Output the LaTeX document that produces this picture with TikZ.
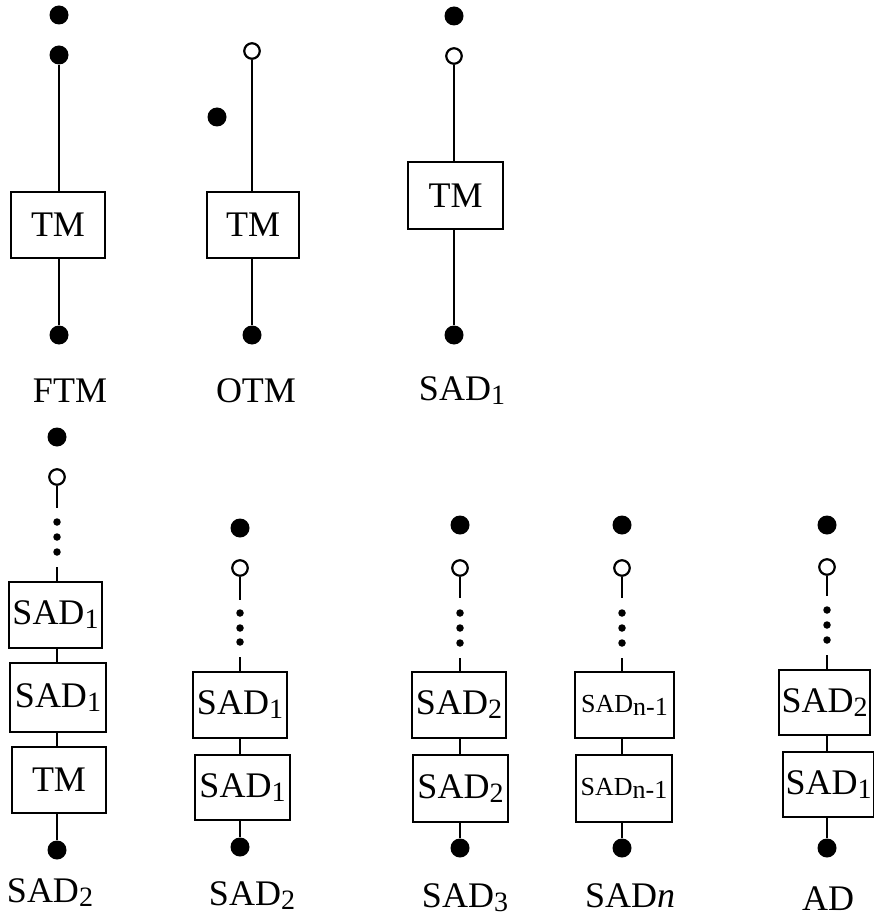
\documentclass[tikz,border=0pt]{standalone}
\usepackage{fontspec}
\setmainfont{Liberation Serif}
\newcommand\sbx[1]{\raisebox{-4pt}{\fontsize{28}{28}\selectfont #1}}
\newcommand\smallsad{{\fontsize{26}{26}\selectfont SAD\raisebox{-3pt}{n-1}}}
\tikzset{
  wire/.style={line width=2.5pt},
  fdot/.style={circle, fill=black, inner sep=0pt, minimum size=19pt},
  odot/.style={circle, draw, line width=2.2pt, fill=white, inner sep=0pt, minimum size=15.5pt},
  sdot/.style={circle, fill=black, inner sep=0pt, minimum size=7.5pt},
  blk/.style={draw, line width=2.5pt, inner sep=0pt, fill=white,
              font=\fontsize{36}{40}\selectfont},
  lbl/.style={anchor=base, inner sep=0pt, font=\fontsize{36}{40}\selectfont}
}
\begin{document}
\begin{tikzpicture}[x=1pt, y=-1pt]
\useasboundingbox (0,0) rectangle (874,917);
\clip (0,0) rectangle (874,917);

% ---------- FTM ----------
\node[fdot] (f0) at (59,15) {};
\node[fdot] (f1) at (59,55) {};
\node[blk, minimum width=94pt, minimum height=66pt] (fb) at (58,225) {TM};
\node[fdot] (f2) at (59,335) {};
\draw[wire] (f1) -- (fb.north -| f1);
\draw[wire] (fb.south -| f2) -- (f2);
\node[lbl] (fl) at (70,402) {FTM};

% ---------- OTM ----------
\node[odot] (o1) at (252,51) {};
\node[fdot] (o0) at (217,117) {};
\node[blk, minimum width=92pt, minimum height=66pt] (ob) at (253,225) {TM};
\node[fdot] (o2) at (252,335) {};
\draw[wire] (o1) -- (ob.north -| o1);
\draw[wire] (ob.south -| o2) -- (o2);
\node[lbl] (ol) at (256,402) {OTM};

% ---------- SAD1 ----------
\node[fdot] (a0) at (454,16) {};
\node[odot] (a1) at (454,56) {};
\node[blk, minimum width=95pt, minimum height=67pt] (ab) at (455.5,195.5) {TM};
\node[fdot] (a2) at (454,335) {};
\draw[wire] (a1) -- (ab.north -| a1);
\draw[wire] (ab.south -| a2) -- (a2);
\node[lbl] (al) at (462,400) {SAD\sbx{1}};

% ---------- SAD2 (from SAD1, SAD1, TM) ----------
\node[fdot] (b0) at (57,437) {};
\node[odot] (b1) at (57,477) {};
\coordinate (bg1) at (57,508);
\node[sdot] (bs1) at (57,522) {};
\node[sdot] (bs2) at (57,537) {};
\node[sdot] (bs3) at (57,552) {};
\coordinate (bg2) at (57,567);
\node[blk, minimum width=93pt, minimum height=66pt] (bb1) at (55.5,615) {SAD\sbx{1}};
\node[blk, minimum width=96pt, minimum height=69pt] (bb2) at (58,697.5) {SAD\sbx{1}};
\node[blk, minimum width=94pt, minimum height=66pt] (bb3) at (59,780) {TM};
\node[fdot] (b2) at (57,850) {};
\draw[wire] (b1) -- (bg1);
\draw[wire] (bg2) -- (bb1.north -| bg2);
\draw[wire] (bb1.south -| bg2) -- (bb2.north -| bg2);
\draw[wire] (bb2.south -| bg2) -- (bb3.north -| bg2);
\draw[wire] (bb3.south -| b2) -- (b2);
\node[lbl] (bl) at (50,902) {SAD\sbx{2}};

% ---------- SAD2 (from SAD1, SAD1) ----------
\node[fdot] (c0) at (240,528) {};
\node[odot] (c1) at (240,568) {};
\coordinate (cg1) at (240,600);
\node[sdot] (cs1) at (240,613) {};
\node[sdot] (cs2) at (240,628) {};
\node[sdot] (cs3) at (240,642) {};
\coordinate (cg2) at (240,657);
\node[blk, minimum width=94pt, minimum height=66pt] (cb1) at (240,705) {SAD\sbx{1}};
\node[blk, minimum width=95pt, minimum height=65pt] (cb2) at (242.5,787.5) {SAD\sbx{1}};
\node[fdot] (c2) at (240,847) {};
\draw[wire] (c1) -- (cg1);
\draw[wire] (cg2) -- (cb1.north -| cg2);
\draw[wire] (cb1.south -| cg2) -- (cb2.north -| cg2);
\draw[wire] (cb2.south -| c2) -- (c2);
\node[lbl] (cl) at (252,905) {SAD\sbx{2}};

% ---------- SAD3 ----------
\node[fdot] (d0) at (460,525) {};
\node[odot] (d1) at (460,568) {};
\coordinate (dg1) at (460,598);
\node[sdot] (ds1) at (460,613) {};
\node[sdot] (ds2) at (460,628) {};
\node[sdot] (ds3) at (460,643) {};
\coordinate (dg2) at (460,658);
\node[blk, minimum width=94pt, minimum height=66pt] (db1) at (459,705) {SAD\sbx{2}};
\node[blk, minimum width=95pt, minimum height=67pt] (db2) at (460.5,788.5) {SAD\sbx{2}};
\node[fdot] (d2) at (460,848) {};
\draw[wire] (d1) -- (dg1);
\draw[wire] (dg2) -- (db1.north -| dg2);
\draw[wire] (db1.south -| dg2) -- (db2.north -| dg2);
\draw[wire] (db2.south -| d2) -- (d2);
\node[lbl] (dl) at (465,907) {SAD\sbx{3}};

% ---------- SADn ----------
\node[fdot] (e0) at (622,525) {};
\node[odot] (e1) at (622,568) {};
\coordinate (eg1) at (622,598);
\node[sdot] (es1) at (622,613) {};
\node[sdot] (es2) at (622,628) {};
\node[sdot] (es3) at (622,643) {};
\coordinate (eg2) at (622,658);
\node[blk, minimum width=99pt, minimum height=66pt] (eb1) at (624.5,705) {\smallsad};
\node[blk, minimum width=96pt, minimum height=67pt] (eb2) at (624,788.5) {\smallsad};
\node[fdot] (e2) at (622,848) {};
\draw[wire] (e1) -- (eg1);
\draw[wire] (eg2) -- (eb1.north -| eg2);
\draw[wire] (eb1.south -| eg2) -- (eb2.north -| eg2);
\draw[wire] (eb2.south -| e2) -- (e2);
\node[lbl] (el) at (630,907) {SAD\textit{n}};

% ---------- AD ----------
\node[fdot] (g0) at (827,525) {};
\node[odot] (g1) at (827,567) {};
\coordinate (gg1) at (827,596);
\node[sdot] (gs1) at (827,610) {};
\node[sdot] (gs2) at (827,625) {};
\node[sdot] (gs3) at (827,640) {};
\coordinate (gg2) at (827,655);
\node[blk, minimum width=91pt, minimum height=65pt] (gb1) at (824.5,702.5) {SAD\sbx{2}};
\node[blk, minimum width=91pt, minimum height=65pt] (gb2) at (828.5,784.5) {SAD\sbx{1}};
\node[fdot] (g2) at (827,848) {};
\draw[wire] (g1) -- (gg1);
\draw[wire] (gg2) -- (gb1.north -| gg2);
\draw[wire] (gb1.south -| gg2) -- (gb2.north -| gg2);
\draw[wire] (gb2.south -| g2) -- (g2);
\node[lbl] (gl) at (828,910) {AD};
\end{tikzpicture}
\end{document}
